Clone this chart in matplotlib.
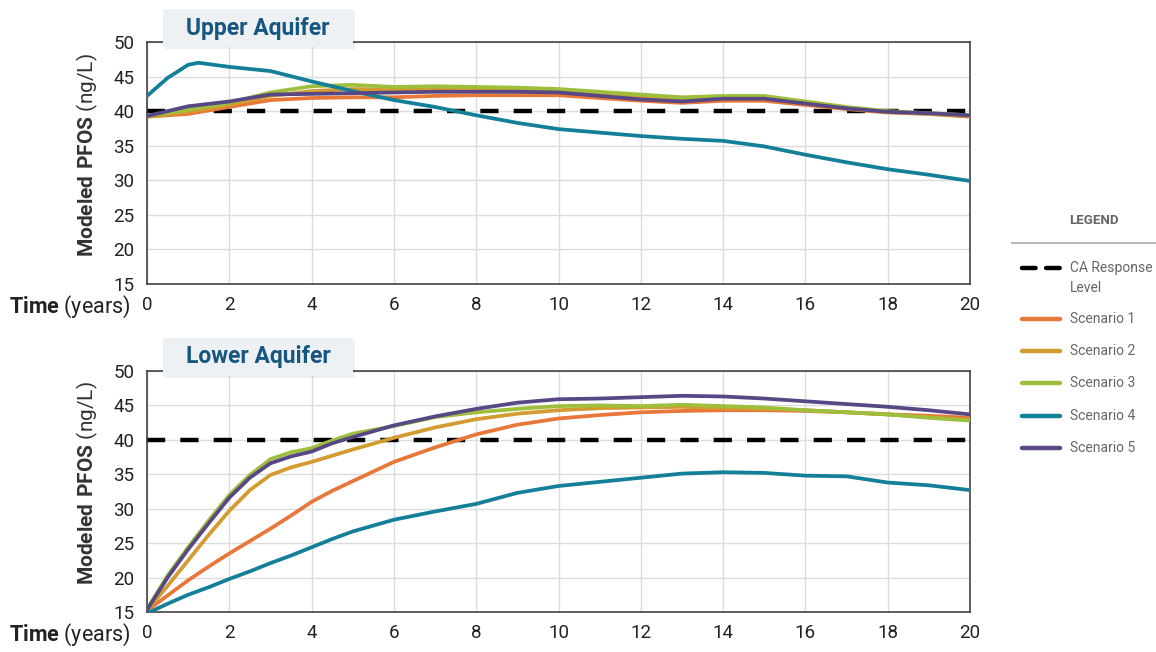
import matplotlib.pyplot as plt
from matplotlib.lines import Line2D
from matplotlib.patches import Rectangle

plt.rcParams['font.family'] = ['Roboto', 'DejaVu Sans']
plt.rcParams['mathtext.fontset'] = 'custom'
plt.rcParams['mathtext.rm'] = 'Roboto'
plt.rcParams['mathtext.bf'] = 'Roboto:bold'

years = list(range(21))
years_s4_upper = [0, 0.5, 1, 1.25, 1.5, 2] + list(range(3, 21))
years_lower = [0, 0.5, 1, 1.5, 2, 2.5, 3, 3.5, 4, 4.5] + list(range(5, 21))

labels = ['Scenario 1', 'Scenario 2', 'Scenario 3', 'Scenario 4', 'Scenario 5']
colors = ['#e8773a', '#d39b30', '#9dbf3c', '#137f98', '#574785']
response_level = 40

upper_s1 = [39.2, 39.6, 40.6, 41.6, 41.9, 42.0, 42.0, 42.2, 42.3, 42.3, 42.3,
            41.9, 41.5, 41.2, 41.5, 41.5, 40.9, 40.3, 39.8, 39.6, 39.2]
upper_s2 = [39.2, 39.9, 40.9, 42.2, 42.9, 43.2, 43.1, 43.2, 43.1, 43.0, 42.9,
            42.4, 42.0, 41.7, 41.9, 41.9, 41.2, 40.5, 39.9, 39.6, 39.3]
upper_s3 = [39.3, 40.2, 41.2, 42.7, 43.6, 43.8, 43.5, 43.6, 43.5, 43.4, 43.2,
            42.8, 42.4, 42.0, 42.2, 42.2, 41.4, 40.6, 40.0, 39.7, 39.4]
upper_s4 = [42.2, 44.8, 46.7, 47.0, 46.8, 46.4, 45.8, 44.3, 42.9, 41.6, 40.6,
            39.4, 38.3, 37.4, 36.9, 36.4, 36.0, 35.7, 34.9, 33.7, 32.6, 31.6, 30.8, 29.9]
upper_s5 = [39.3, 40.7, 41.4, 42.4, 42.5, 42.6, 42.7, 42.8, 42.8, 42.8, 42.7,
            42.2, 41.7, 41.4, 41.8, 41.8, 41.1, 40.4, 39.9, 39.7, 39.4]

lower_s1 = [15.2, 17.4, 19.6, 21.6, 23.5, 25.3, 27.1, 29.0, 31.0, 32.6,
            34.0, 36.8, 38.9, 40.8, 42.2, 43.1, 43.6, 44.0, 44.2, 44.3, 44.3,
            44.2, 44.0, 43.7, 43.5, 43.2]
lower_s2 = [15.2, 18.8, 22.5, 26.2, 29.7, 32.7, 34.9, 36.0, 36.8, 37.7,
            38.6, 40.3, 41.8, 43.0, 43.8, 44.3, 44.6, 44.7, 44.8, 44.6, 44.5,
            44.3, 44.0, 43.7, 43.3, 42.9]
lower_s3 = [15.4, 20.3, 24.4, 28.3, 32.0, 34.9, 37.2, 38.2, 38.8, 39.9,
            40.9, 42.0, 43.3, 44.0, 44.5, 44.9, 45.0, 44.9, 45.1, 44.9, 44.7,
            44.3, 44.0, 43.7, 43.2, 42.8]
lower_s4 = [14.8, 16.2, 17.5, 18.6, 19.8, 20.9, 22.1, 23.2, 24.4, 25.6,
            26.7, 28.4, 29.6, 30.7, 32.3, 33.3, 33.9, 34.5, 35.1, 35.3, 35.2,
            34.8, 34.7, 33.8, 33.4, 32.7]
lower_s5 = [15.3, 20.0, 24.1, 27.9, 31.6, 34.5, 36.6, 37.6, 38.3, 39.5,
            40.4, 42.1, 43.4, 44.5, 45.4, 45.9, 46.0, 46.2, 46.4, 46.3, 46.0,
            45.6, 45.2, 44.8, 44.3, 43.7]

upper = [(years, upper_s1), (years, upper_s2), (years, upper_s3),
         (years_s4_upper, upper_s4), (years, upper_s5)]
lower = [(years_lower, s) for s in (lower_s1, lower_s2, lower_s3, lower_s4, lower_s5)]

W, H = 1156, 652
fig = plt.figure(figsize=(W / 100, H / 100), dpi=100)


def fx(px):
    return px / W


def fy(py):
    return 1 - py / H


panels = [('Upper Aquifer', upper, 42, 284), ('Lower Aquifer', lower, 371, 612)]

for title, series, top, bottom in panels:
    ax = fig.add_axes([fx(147), fy(bottom), fx(970) - fx(147), (bottom - top) / H])
    ax.axhline(response_level, color='black', lw=3.2, dashes=(4.1, 3.4), zorder=2.5)
    for (x, y), c in zip(series, colors):
        ax.plot(x, y, color=c, lw=2.7, solid_capstyle='round',
                solid_joinstyle='round', zorder=3)
    ax.set_xlim(0, 20)
    ax.set_ylim(15, 50)
    ax.set_xticks(range(0, 21, 2))
    ax.set_yticks(range(15, 51, 5))
    ax.grid(True, color='#dcdcdc', lw=1)
    ax.set_axisbelow(True)
    ax.tick_params(length=0, labelsize=13.5, colors='#222222', pad=9)
    for s in ax.spines.values():
        s.set_color('#333333')
        s.set_linewidth(1.1)

    # y label, bold + regular
    fig.text(fx(87), fy((top + bottom) / 2 - 8), r'$\mathbf{Modeled\ PFOS}$ (ng/L)',
             rotation=90, ha='center', va='center', fontsize=15, color='#333333')
    # x label to the left of the first tick
    fig.text(fx(131), fy(bottom + 23), r'$\mathbf{Time}$ (years)',
             ha='right', va='center', fontsize=15.5, color='#222222')

    # title box with soft shadow
    by0 = top - 33
    fig.add_artist(Rectangle((fx(165), fy(by0 + 40)), fx(190), 38 / H,
                             transform=fig.transFigure, facecolor='#000000',
                             alpha=0.06, edgecolor='none', zorder=5))
    fig.add_artist(Rectangle((fx(163), fy(by0 + 38)), fx(190), 38 / H,
                             transform=fig.transFigure, facecolor='#edf1f4',
                             edgecolor='none', zorder=6))
    fig.text(fx(258), fy(by0 + 19), title, ha='center', va='center',
             fontsize=16.5, fontweight='bold', color='#17577f', zorder=7)

# legend
fig.text(fx(1094), fy(221), 'LEGEND', ha='center', va='center', fontsize=9.5,
         fontweight='bold', color='#666666')
fig.add_artist(Line2D([fx(1012), fx(1156)], [fy(243), fy(243)],
                      transform=fig.transFigure, color='#aaaaaa', lw=1.2))

entries = [('CA Response\nLevel', 'black', (3.06, 2.36), 268)]
for lab, c, yy in zip(labels, colors, [319, 351, 383, 416, 448]):
    entries.append((lab, c, None, yy))

for lab, c, dash, yy in entries:
    ln = Line2D([fx(1022.2), fx(1059.8)], [fy(yy), fy(yy)], transform=fig.transFigure,
                color=c, lw=3.2, solid_capstyle='round', dash_capstyle='round')
    if dash:
        ln.set_dashes(dash)
    fig.add_artist(ln)
    fig.text(fx(1070), fy(yy - 7), lab, ha='left', va='top', fontsize=10,
             color='#666666', linespacing=1.55)

fig.savefig('out.png', dpi=100)
